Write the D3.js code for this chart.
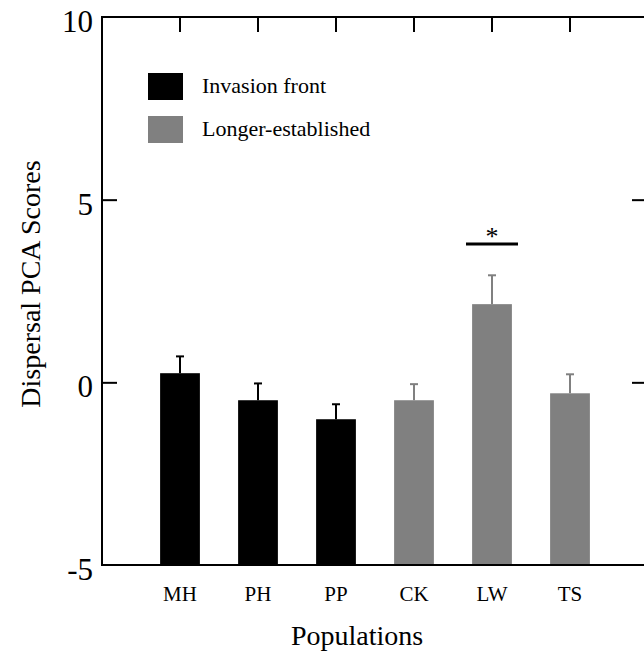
<!DOCTYPE html>
<html>
<head>
<meta charset="utf-8">
<script src="https://cdn.jsdelivr.net/npm/d3@7"></script>
</head>
<body style="margin:0">
<script>
// Dispersal PCA scores by population

const populations = ["MH", "PH", "PP", "CK", "LW", "TS"];
const groups = ["front", "front", "front", "est", "est", "est"];
const means = [0.25, -0.49, -1.01, -0.49, 2.14, -0.30];
const errors = [0.46, 0.46, 0.41, 0.44, 0.79, 0.52];
const yTicks = [-5, 0, 5, 10];
const legendItems = [
    {key: "front", label: "Invasion front"},
    {key: "est", label: "Longer-established"}
];

(function() {
    const W = 644, H = 656;
    const color = {front: "#000000", est: "#808080"};
    const serif = "'Liberation Serif'";

    const svg = d3.select("body")
        .append("svg")
        .attr("width", W)
        .attr("height", H);

    const left = 102, right = 647, top = 17, bottom = 565;

    const x = d3.scaleBand()
        .domain(populations)
        .range([141, 609])
        .paddingInner(0.49)
        .paddingOuter(0.245);

    const y = d3.scaleLinear()
        .domain([-5, 10])
        .range([bottom, top]);

    // Bars (drawn from axis floor)
    svg.selectAll("rect.bar")
        .data(populations)
        .enter()
        .append("rect")
        .attr("class", "bar")
        .attr("x", d => x(d))
        .attr("y", (d, i) => y(means[i]))
        .attr("width", x.bandwidth())
        .attr("height", (d, i) => y(-5) - y(means[i]))
        .attr("fill", (d, i) => color[groups[i]]);

    // Error bars (upper only)
    const eb = svg.selectAll("g.err")
        .data(populations)
        .enter()
        .append("g")
        .attr("class", "err")
        .attr("stroke", (d, i) => color[groups[i]])
        .attr("stroke-width", 2);

    eb.append("line")
        .attr("x1", d => x(d) + x.bandwidth() / 2)
        .attr("x2", d => x(d) + x.bandwidth() / 2)
        .attr("y1", (d, i) => y(means[i]))
        .attr("y2", (d, i) => y(means[i] + errors[i]));

    eb.append("line")
        .attr("x1", d => x(d) + x.bandwidth() / 2 - 4)
        .attr("x2", d => x(d) + x.bandwidth() / 2 + 4)
        .attr("y1", (d, i) => y(means[i] + errors[i]))
        .attr("y2", (d, i) => y(means[i] + errors[i]));

    // Frame
    svg.append("path")
        .attr("d", `M${right},${top}H${left}V${bottom}H${right}`)
        .attr("fill", "none")
        .attr("stroke", "#000")
        .attr("stroke-width", 2);

    // Left / right axis ticks (inward)
    svg.append("g")
        .attr("transform", `translate(${left},0)`)
        .call(d3.axisRight(y).tickValues(yTicks.filter(v => v > -5 && v < 10)).tickSize(15).tickFormat(""))
        .call(g => g.select(".domain").remove())
        .call(g => g.selectAll("line").attr("stroke-width", 2));

    svg.append("g")
        .attr("transform", `translate(${right},0)`)
        .call(d3.axisLeft(y).tickValues(yTicks.filter(v => v > -5 && v < 10)).tickSize(15).tickFormat(""))
        .call(g => g.select(".domain").remove())
        .call(g => g.selectAll("line").attr("stroke-width", 2));

    // Top ticks at bar centres
    svg.append("g")
        .attr("transform", `translate(0,${top})`)
        .call(d3.axisBottom(x).tickSize(15).tickFormat(""))
        .call(g => g.select(".domain").remove())
        .call(g => g.selectAll("line").attr("stroke-width", 2));

    // Y tick labels
    svg.selectAll("text.ylab")
        .data(yTicks)
        .enter()
        .append("text")
        .attr("class", "ylab")
        .attr("x", 93)
        .attr("y", d => y(d) + 15)
        .attr("text-anchor", "end")
        .attr("font-family", serif)
        .attr("font-size", 31)
        .text(d => d);

    // Category labels
    svg.selectAll("text.xlab")
        .data(populations)
        .enter()
        .append("text")
        .attr("class", "xlab")
        .attr("x", d => x(d) + x.bandwidth() / 2)
        .attr("y", 601)
        .attr("text-anchor", "middle")
        .attr("font-family", serif)
        .attr("font-size", 21)
        .text(d => d);

    // Axis titles
    svg.append("text")
        .attr("x", 357)
        .attr("y", 645)
        .attr("text-anchor", "middle")
        .attr("font-family", serif)
        .attr("font-size", 28)
        .text("Populations");

    svg.append("text")
        .attr("transform", "rotate(-90)")
        .attr("x", -284)
        .attr("y", 40)
        .attr("text-anchor", "middle")
        .attr("font-family", serif)
        .attr("font-size", 28)
        .text("Dispersal PCA Scores");

    // Significance marker over LW
    const lw = x("LW") + x.bandwidth() / 2;
    svg.append("line")
        .attr("x1", lw - 26)
        .attr("x2", lw + 26)
        .attr("y1", 244)
        .attr("y2", 244)
        .attr("stroke", "#000")
        .attr("stroke-width", 3);

    svg.append("text")
        .attr("x", lw)
        .attr("y", 245)
        .attr("text-anchor", "middle")
        .attr("font-family", serif)
        .attr("font-size", 26)
        .text("*");

    // Legend
    const legend = svg.selectAll("g.legend")
        .data(legendItems)
        .enter()
        .append("g")
        .attr("class", "legend")
        .attr("transform", (d, i) => `translate(148,${73 + i * 43})`);

    legend.append("rect")
        .attr("width", 35)
        .attr("height", 27)
        .attr("fill", d => color[d.key]);

    legend.append("text")
        .attr("x", 54)
        .attr("y", 20)
        .attr("font-family", serif)
        .attr("font-size", 22)
        .text(d => d.label);
})();
</script>
</body>
</html>
